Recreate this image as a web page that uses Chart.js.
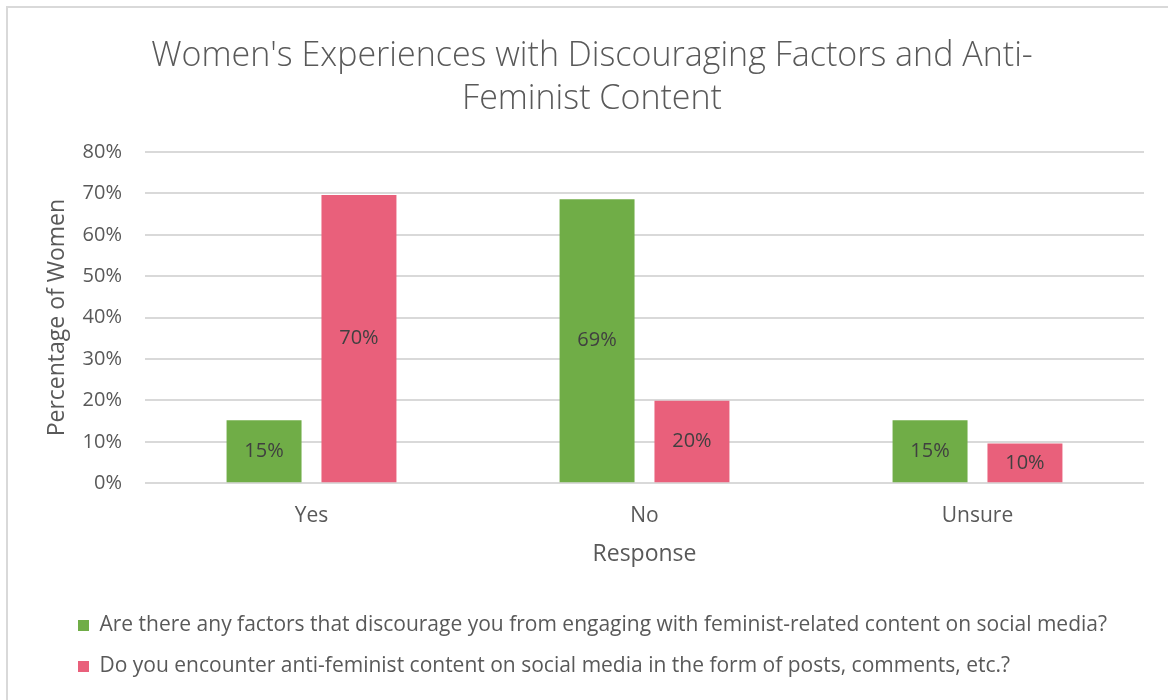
<!DOCTYPE html>
<html>
<head>
<meta charset="utf-8">
<script src="https://cdn.jsdelivr.net/npm/chart.js@4"></script>
<style>
  html, body { margin: 0; padding: 0; background: #fff; }
  #wrap { position: relative; width: 1168px; height: 700px; }
</style>
</head>
<body>
<div id="wrap"><canvas id="responseChart"></canvas></div>
<script>
 const responses = ["Yes", "No", "Unsure"];
 const discouragedPct = [15.2, 68.6, 15.2];
 const antiFeministPct = [69.6, 19.9, 9.6];
 const seriesNames = [
   "Are there any factors that discourage you from engaging with feminist-related content on social media?",
   "Do you encounter anti-feminist content on social media in the form of posts, comments, etc.?"
 ];

 const FONT = "'Open Sans', sans-serif";
 const GREY = "#595959";

 // light frame along the top and left edge of the chart box
 const framePlugin = {
   id: 'frame',
   beforeDraw(chart) {
     const ctx = chart.ctx;
     ctx.save();
     ctx.strokeStyle = '#d9d9d9';
     ctx.lineWidth = 2;
     ctx.beginPath();
     ctx.moveTo(7, chart.height);
     ctx.lineTo(7, 7);
     ctx.lineTo(chart.width, 7);
     ctx.stroke();
     ctx.restore();
   }
 };

 // nudge the legend rows a bit to the right
 const legendShift = {
   id: 'legendShift',
   afterLayout(chart) {
     chart.legend.left += 18;
     chart.legend.right += 18;
   }
 };

 // value labels in the middle of each bar
 const barLabels = {
   id: 'barLabels',
   afterDatasetsDraw(chart) {
     const ctx = chart.ctx;
     ctx.save();
     ctx.font = "20px " + FONT;
     ctx.fillStyle = "#404040";
     ctx.textAlign = "center";
     ctx.textBaseline = "middle";
     chart.data.datasets.forEach((ds, i) => {
       chart.getDatasetMeta(i).data.forEach((bar, j) => {
         const y = (bar.y + bar.base) / 2;
         ctx.fillText(Math.round(ds.data[j]) + "%", bar.x, y);
       });
     });
     ctx.restore();
   }
 };

 const chartData = {
   labels: responses,
   datasets: [{
       label: seriesNames[0],
       backgroundColor: '#70ad47',
       data: discouragedPct
     },{
       label: seriesNames[1],
       backgroundColor: '#e9607b',
       data: antiFeministPct
     }
   ]
 };

 const config = {
   type: 'bar',
   data: chartData,
   plugins: [framePlugin, legendShift, barLabels],
   options: {
     responsive: false,
     animation: false,
     datasets: {
       bar: { categoryPercentage: 0.57, barPercentage: 0.79 }
     },
     layout: {
       padding: { left: 40, right: 24, top: 22, bottom: 13 }
     },
     scales: {
       y: {
         min: 0,
         max: 80,
         ticks: {
           stepSize: 10,
           padding: 23,
           color: GREY,
           font: { family: FONT, size: 20 },
           callback: v => v + "%"
         },
         grid: { color: '#d9d9d9', lineWidth: 2, drawTicks: false },
         border: { display: false },
         title: {
           display: true,
           text: "Percentage of Women",
           color: GREY,
           font: { family: FONT, size: 23 },
           padding: { top: 4, bottom: -12 }
         }
       },
       x: {
         ticks: {
           color: GREY,
           font: { family: FONT, size: 21 },
           padding: 20
         },
         grid: { display: false, drawTicks: false },
         border: { display: false },
         title: {
           display: true,
           text: "Response",
           color: GREY,
           font: { family: FONT, size: 23 },
           padding: { top: -8, bottom: 27 }
         }
       }
     },
     plugins: {
       title: {
         display: true,
         text: ["Women's Experiences with Discouraging Factors and Anti-", "Feminist Content"],
         color: GREY,
         font: { family: FONT, size: 34, weight: 300, lineHeight: 1.265 },
         padding: { top: 13, bottom: 31 }
       },
       legend: {
         display: true,
         position: "bottom",
         align: "start",
         labels: {
           color: GREY,
           font: { family: FONT, size: 21 },
           boxWidth: 11,
           boxHeight: 11,
           padding: 20
         }
       },
       tooltip: { enabled: false }
     }
   }
 };

 const canvas = document.getElementById('responseChart');
 canvas.width = 1168;
 canvas.height = 700;
 const responseChart = new Chart(canvas, config);
</script>
</body>
</html>
